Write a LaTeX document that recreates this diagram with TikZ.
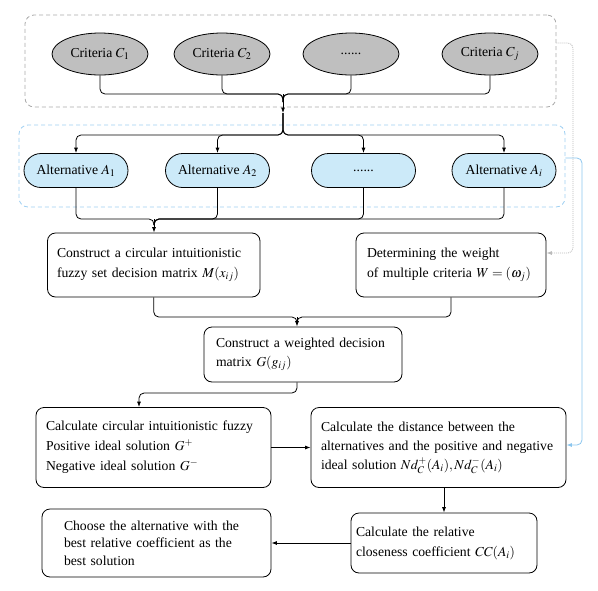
\documentclass[tikz,border=0pt]{standalone}
\usepackage{mathptmx}
\usepackage[no-math]{fontspec}
\setmainfont{Liberation Serif}
\usetikzlibrary{arrows.meta,shapes.geometric}
\definecolor{ellfill}{HTML}{BFBFBF}
\definecolor{altfill}{HTML}{CCEAF9}
\definecolor{bluedash}{HTML}{9FD0F2}
\definecolor{blueline}{HTML}{8CC6EE}
\definecolor{greydash}{HTML}{AAAAAA}
\definecolor{greydot}{HTML}{BBBBBB}
\newcommand\tline[1]{\mbox{#1}}
\begin{document}
\begin{tikzpicture}[x=1pt,y=-1pt,
  every node/.style={font=\fontsize{13.7}{18}\selectfont},
  crit/.style={ellipse, draw, fill=ellfill, minimum width=96pt, minimum height=42pt, inner sep=0pt, line width=0.8pt},
  alt/.style={rectangle, rounded corners=17pt, draw, fill=altfill, minimum width=104pt, minimum height=34pt, inner sep=0pt, line width=0.8pt},
  tbox/.style={draw, rounded corners=8pt, align=left, inner ysep=0pt, line width=0.8pt},
  conn/.style={draw, line width=0.8pt, rounded corners=5pt},
  arr/.style={conn, -{Latex[length=5.5pt,width=4pt]}},
  dashbox/.style={dash pattern=on 4pt off 3pt, rounded corners=9pt, inner sep=0pt, line width=0.8pt},
  dotconn/.style={draw=greydot, line width=0.8pt, dash pattern=on 1pt off 1pt, rounded corners=5pt, -{Latex[length=5.5pt,width=4pt]}},
  blueconn/.style={draw=blueline, line width=0.8pt, rounded corners=5pt, -{Latex[length=5.5pt,width=4pt]}}
]
\useasboundingbox (0,0) rectangle (598,590);

% group frames
\node[dashbox, draw=greydash, minimum width=531pt, minimum height=92pt] (gbox) at (290.5,61) {};
\node[dashbox, draw=bluedash, minimum width=546pt, minimum height=82pt] (bbox) at (292,166) {};

% criteria
\node[crit] (c1) at (100,54) {Criteria $C_1$};
\node[crit] (c2) at (222,54) {Criteria $C_2$};
\node[crit] (c3) at (351,54) {......};
\node[crit] (c4) at (490,54) {Criteria $C_j$};

% alternatives
\node[alt] (a1) at (76,170.5) {Alternative $A_1$};
\node[alt] (a2) at (217.5,170.5) {Alternative $A_2$};
\node[alt] (a3) at (363.5,170.5) {......};
\node[alt] (a4) at (504,170.5) {Alternative $A_i$};

% process boxes
\node[tbox, text width=193.5pt, inner xsep=9.5pt, minimum height=64pt, font=\fontsize{13.7}{20}\selectfont] (m1) at (153.75,265)
  {\tline{Construct a circular intuitionistic}\\\tline{fuzzy set decision matrix $M(x_{ij})$}};
\node[tbox, text width=168pt, inner xsep=11pt, minimum height=64pt, font=\fontsize{13.7}{20}\selectfont] (m2) at (451,265)
  {\tline{Determining the weight}\\\tline{of multiple criteria $W=(\omega_j)$}};
\node[tbox, text width=174pt, inner xsep=12pt, minimum height=55pt, font=\fontsize{13.7}{18.5}\selectfont] (wt) at (303,354.5)
  {\tline{Construct a weighted decision}\\\tline{matrix $G(g_{ij})$}};
\node[tbox, text width=215pt, inner xsep=10pt, minimum height=80pt, font=\fontsize{13.7}{20}\selectfont] (cg) at (153.5,447.5)
  {\tline{Calculate circular intuitionistic fuzzy}\\\tline{Positive ideal solution $G^{+}$}\\\tline{Negative ideal solution $G^{-}$}};
\node[tbox, text width=235pt, inner xsep=10pt, minimum height=80pt, font=\fontsize{13.7}{19}\selectfont] (nd) at (438.5,447.5)
  {\tline{Calculate the distance between the}\\\tline{alternatives and the positive and negative}\\\tline{ideal solution $Nd_C^{+}(A_i),Nd_C^{-}(A_i)$}};
\node[tbox, text width=176pt, inner xsep=5pt, minimum height=60pt, font=\fontsize{13.7}{20}\selectfont] (cc) at (444,543)
  {\tline{Calculate the relative}\\\tline{closeness coefficient $CC(A_i)$}};
\node[tbox, text width=185pt, inner xsep=22pt, minimum height=68pt, font=\fontsize{13.7}{17.5}\selectfont] (ch) at (156.5,543)
  {\tline{Choose the alternative with the}\\\tline{best relative coefficient as the}\\\tline{best solution}};

% junction points
\coordinate (jc) at (283,94);
\coordinate (jd) at (283,113);
\coordinate (jb) at (283,135);
\coordinate (ja) at (154,219);
\coordinate (jw) at (297,317);
\coordinate (jg) at (139,393);
\coordinate (g1) at (573,43);
\coordinate (g2) at (573,253);
\coordinate (b1) at (582,158);
\coordinate (b2) at (582,445);

% criteria merge
\foreach \e in {c1,c2,c3,c4} \draw[conn] (\e.south) |- (jc) -- ++(0,8);
\draw[arr] (jc) -- (jd);
% branch to alternatives
\foreach \a in {a1,a2,a3,a4} \draw[arr] (jd) -- (jb) -| (\a.north);
% alternatives merge
\foreach \a in {a1,a2,a3,a4} \draw[conn] (\a.south) |- (ja) -- ++(0,6);
\draw[arr] (ja) -- (ja |- m1.north);
% matrices merge
\draw[conn] (m1.south) |- (jw) -- ++(0,5);
\draw[conn] (m2.south) |- (jw) -- ++(0,5);
\draw[arr] (jw) -- (jw |- wt.north);
% flow
\draw[arr] (jw |- wt.south) |- (jg) -- (jg |- cg.north);
\draw[arr] (cg.east) -- (cg.east -| nd.west);
\draw[arr] (nd.south -| cc.north) -- (cc.north);
\draw[arr] (cc.west) -- (cc.west -| ch.east);

% side connectors
\draw[dotconn] (g1 -| gbox.east) -- (g1) -- (g2) -- (g2 -| m2.east);
\draw[blueconn] (b1 -| bbox.east) -- (b1) -- (b2) -- (b2 -| nd.east);
\end{tikzpicture}
\end{document}
